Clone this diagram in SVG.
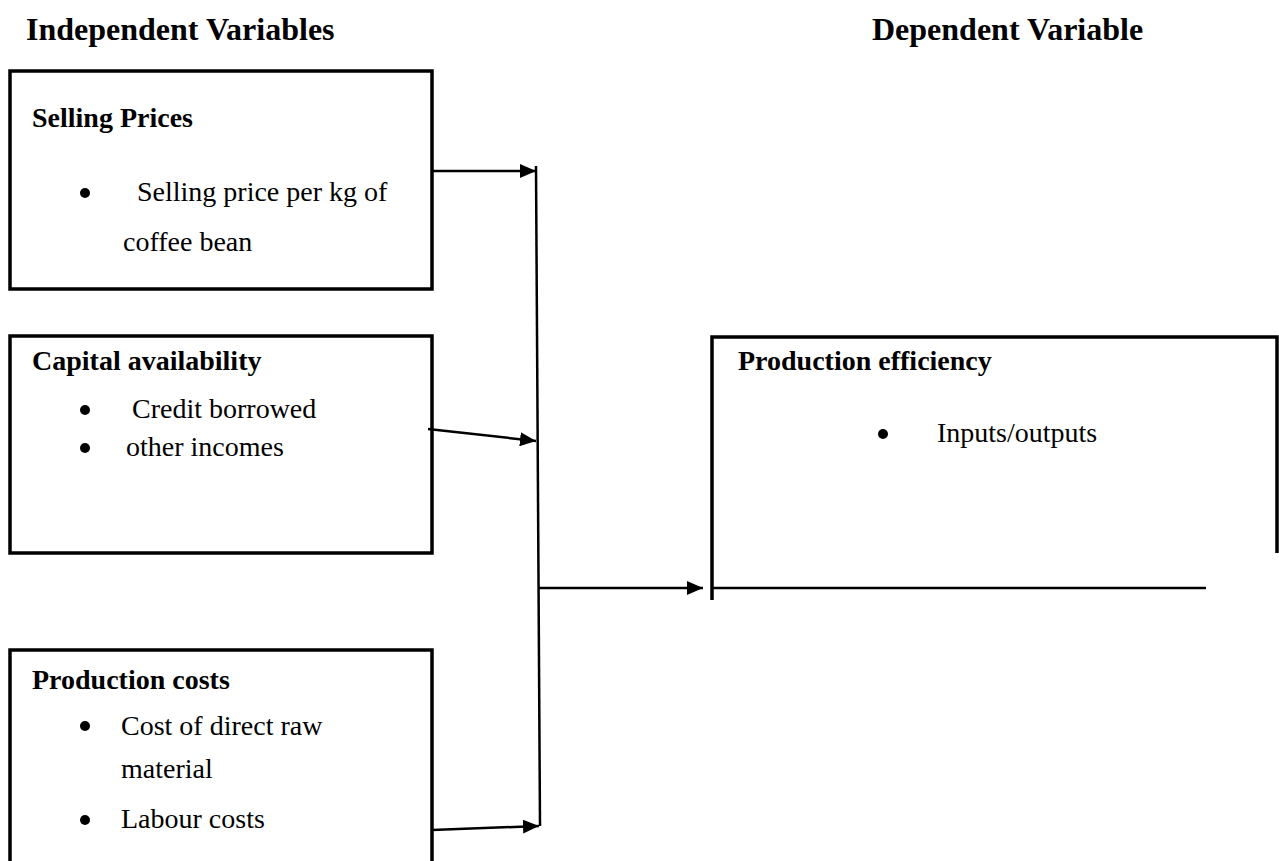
<svg xmlns="http://www.w3.org/2000/svg" width="1279" height="861" viewBox="0 0 1279 861">
<style>
text{font-family:"Liberation Serif","Times New Roman",serif;fill:#000}
.h{font-size:32px;font-weight:bold}
.t{font-size:28px;font-weight:bold}
.b{font-size:28px}
.box{fill:none;stroke:#000;stroke-width:3.5}
.edge{fill:none;stroke:#000;stroke-width:2.5}
.conn{fill:none;stroke:#000;stroke-width:2.5}
.dot{fill:#000}
</style>
<defs>
<marker id="ah" markerWidth="16" markerHeight="14" refX="16" refY="7" orient="auto" markerUnits="userSpaceOnUse">
<path d="M0,0 L16,7 L0,14 Z" fill="#000"/>
</marker>
</defs>
<rect width="1279" height="861" fill="#fff"/>
<g id="headings">
<text class="h" x="26" y="40">Independent Variables</text>
<text class="h" x="872" y="40">Dependent Variable</text>
</g>
<g id="selling-prices">
<rect class="box" x="10" y="71" width="422" height="218"/>
<text class="t" x="32" y="127">Selling Prices</text>
<circle class="dot" cx="85" cy="193" r="5"/>
<text class="b" x="137" y="201">Selling price per kg of</text>
<text class="b" x="123" y="251">coffee bean</text>
</g>
<g id="capital-availability">
<rect class="box" x="10" y="336" width="422" height="217"/>
<text class="t" x="32" y="370">Capital availability</text>
<circle class="dot" cx="85" cy="410" r="5"/>
<text class="b" x="132" y="418">Credit borrowed</text>
<circle class="dot" cx="85" cy="448" r="5"/>
<text class="b" x="126" y="456">other incomes</text>
</g>
<g id="production-costs">
<path class="box" d="M10,863 V650 H432 V863"/>
<text class="t" x="32" y="689">Production costs</text>
<circle class="dot" cx="85" cy="726" r="5"/>
<text class="b" x="121" y="735">Cost of direct raw</text>
<text class="b" x="121" y="778">material</text>
<circle class="dot" cx="85" cy="820" r="5"/>
<text class="b" x="121" y="828">Labour costs</text>
</g>
<g id="production-efficiency">
<path class="box" d="M712,600 V337 H1277 V553"/>
<path class="edge" d="M712,588 H1206"/>
<text class="t" x="738" y="370">Production efficiency</text>
<circle class="dot" cx="883" cy="434" r="5"/>
<text class="b" x="937" y="442">Inputs/outputs</text>
</g>
<g id="connectors">
<path class="conn" d="M536,166 L540,826"/>
<path class="conn" d="M432,171 H536" marker-end="url(#ah)"/>
<path class="conn" d="M428,429 L536,441" marker-end="url(#ah)"/>
<path class="conn" d="M432,830 L539,826" marker-end="url(#ah)"/>
<path class="conn" d="M539,588 H703" marker-end="url(#ah)"/>
</g>
</svg>
